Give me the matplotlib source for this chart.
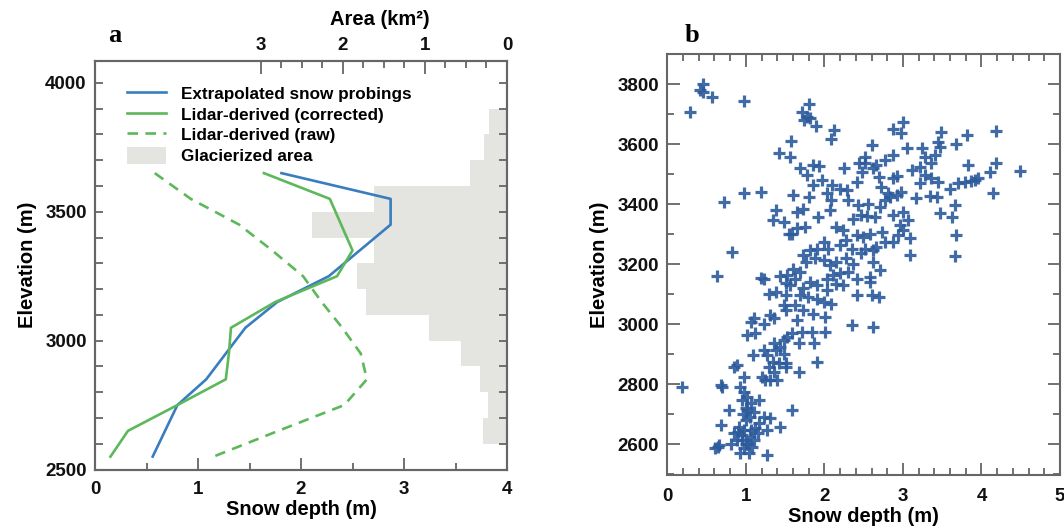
import matplotlib
matplotlib.use('Agg')
import matplotlib.pyplot as plt
from matplotlib.patches import Patch
from matplotlib.lines import Line2D
from matplotlib.ticker import MultipleLocator, FixedLocator

plt.rcParams['font.family'] = ['Liberation Sans', 'DejaVu Sans']
plt.rcParams['font.weight'] = 'bold'
plt.rcParams['axes.labelweight'] = 'bold'

# ---------------- Panel a data ----------------
elev_profile = [3650, 3550, 3450, 3350, 3250, 3150, 3050, 2950, 2850, 2750, 2650, 2550]
depth_probing = [1.81, 2.87, 2.87, 2.57, 2.27, 1.77, 1.46, 1.27, 1.08, 0.80, 0.68, 0.56]
depth_lidar_corr = [1.64, 2.28, 2.39, 2.50, 2.35, 1.75, 1.32, 1.30, 1.27, 0.80, 0.32, 0.15]
depth_lidar_raw = [0.58, 0.93, 1.40, 1.72, 2.02, 2.20, 2.40, 2.58, 2.64, 2.42, 1.78, 1.15]

area_bin_bottom = [2600, 2700, 2800, 2900, 3000, 3100, 3200, 3300, 3400, 3500, 3600, 3700, 3800]
area_km2 = [0.29, 0.23, 0.33, 0.56, 0.95, 1.72, 1.83, 1.62, 2.37, 1.62, 0.45, 0.28, 0.22]

# ---------------- Panel b data ----------------
depth_b = [
    0.45, 0.42, 0.45, 0.57, 0.29, 0.98, 1.80, 1.72, 1.78, 1.74, 1.82, 1.89,
    2.12, 2.08, 1.58, 1.42, 1.56, 1.69, 1.86, 1.93, 1.78, 2.25, 1.97, 1.86,
    2.10, 2.20, 2.29, 2.44, 2.52, 2.48, 2.42, 1.80, 2.03, 0.98, 1.19, 0.72,
    3.00, 2.97, 2.88, 3.49, 3.45, 3.47, 3.81, 3.67, 4.19, 2.60, 3.05, 3.24,
    3.28, 3.41, 3.36, 2.88, 2.77, 2.66, 2.52, 2.62, 3.22, 3.11, 3.28, 3.36,
    3.45, 3.22, 2.88, 2.92, 2.69, 2.72, 3.60, 3.70, 3.79, 3.87, 3.92, 3.96,
    3.83, 4.19, 4.11, 4.49, 4.15, 3.34, 3.43, 3.17, 2.98, 2.92, 2.83, 3.66,
    3.47, 3.62, 3.68, 3.66, 3.09, 3.09, 3.00, 2.88, 3.07, 2.96, 3.00, 2.94,
    2.88, 2.56, 2.71, 2.64, 2.54, 2.47, 2.77, 2.81, 2.58, 2.73, 2.62, 2.66,
    2.52, 2.62, 2.71, 2.58, 2.47, 2.49, 2.77,
    1.60, 1.65, 1.73, 1.92, 2.09, 2.30, 2.07, 2.43, 2.37, 2.41, 2.24, 2.15,
    2.28, 2.35, 2.20, 1.65, 1.75, 1.99, 2.05, 1.90, 1.82, 1.73, 1.77, 1.88,
    1.99, 2.07, 2.15, 2.28, 2.37, 2.30, 2.41, 2.58, 2.20, 2.11, 2.03, 2.15,
    2.24, 2.03, 1.90, 1.82, 1.73, 1.69, 1.79, 1.90, 1.99, 2.09, 2.41, 2.60,
    2.69, 1.62, 1.73, 1.86, 2.01, 1.65, 1.71, 1.84, 2.01, 2.35, 2.62, 1.60,
    1.69, 1.62, 1.56,
    0.83, 0.63, 1.19, 1.23, 1.38, 1.35, 1.48, 1.55, 1.59, 1.44, 1.53, 1.51,
    1.29, 1.38, 1.51, 1.48, 1.51, 1.31, 1.36, 1.10, 1.06, 1.23, 1.02, 1.12,
    0.19, 0.68, 0.70, 0.78, 0.68, 0.64, 0.66, 0.61, 1.27, 0.89, 0.85, 0.98,
    0.93, 0.98, 0.95, 1.02, 1.06, 1.02, 1.10, 1.17, 1.23, 1.31, 1.27, 1.00,
    0.91, 0.85, 0.98, 1.06, 0.89, 0.81, 0.95, 1.02, 1.10, 0.98, 1.04, 0.93,
    1.08, 1.15, 1.17, 1.44, 1.59, 1.09, 1.27, 1.21, 1.25, 1.31, 1.40, 1.36,
    1.42, 1.34, 1.29, 1.51, 1.51, 1.38, 1.44, 1.36, 1.48, 1.53, 1.68, 1.68,
    1.87, 1.91, 1.59, 1.48, 1.23, 0.95, 1.05, 1.00, 0.90, 1.12, 0.97, 1.05,
    1.00,
]
elev_b = [
    3803, 3783, 3776, 3759, 3709, 3746, 3734, 3709, 3692, 3681, 3687, 3661,
    3648, 3617, 3612, 3572, 3557, 3523, 3531, 3528, 3498, 3523, 3481, 3464,
    3464, 3453, 3448, 3537, 3559, 3509, 3476, 3426, 3437, 3437, 3442, 3407,
    3675, 3637, 3650, 3642, 3609, 3592, 3631, 3601, 3645, 3598, 3587, 3587,
    3559, 3564, 3537, 3564, 3548, 3531, 3537, 3520, 3526, 3514, 3498, 3487,
    3476, 3470, 3487, 3494, 3492, 3459, 3453, 3470, 3476, 3479, 3481, 3487,
    3531, 3537, 3509, 3512, 3439, 3428, 3425, 3420, 3442, 3431, 3425, 3397,
    3370, 3359, 3297, 3227, 3231, 3287, 3375, 3364, 3347, 3331, 3314, 3298,
    3276, 3403, 3392, 3359, 3361, 3364, 3414, 3437, 3303, 3309, 3248, 3259,
    3253, 3209, 3181, 3159, 3237, 3292, 3276,
    3431, 3375, 3386, 3358, 3414, 3414, 3381, 3397, 3353, 3297, 3314, 3325,
    3281, 3253, 3264, 3320, 3325, 3275, 3253, 3253, 3247, 3231, 3208, 3220,
    3214, 3197, 3208, 3220, 3203, 3175, 3153, 3142, 3170, 3164, 3153, 3136,
    3131, 3114, 3131, 3142, 3120, 3097, 3092, 3086, 3075, 3069, 3097, 3097,
    3092, 3064, 3047, 3036, 3025, 3014, 2975, 2975, 2975, 2997, 2992, 3186,
    3175, 3153, 3131,
    3242, 3162, 3155, 3153, 3381, 3348, 3342, 3300, 3300, 3162, 3164, 3137,
    3103, 3109, 3098, 3064, 3048, 3031, 3020, 3020, 3009, 3003, 2964, 2970,
    2792, 2798, 2790, 2714, 2664, 2592, 2598, 2587, 2564, 2864, 2859, 2825,
    2792, 2775, 2748, 2759, 2737, 2714, 2709, 2748, 2692, 2687, 2648, 2681,
    2659, 2637, 2648, 2648, 2614, 2603, 2614, 2603, 2614, 2587, 2570, 2570,
    2592, 2637, 2670, 2659, 2714, 2898, 2898, 2825, 2814, 2814, 2814, 2842,
    2870, 2875, 2859, 2870, 2859, 2914, 2925, 2937, 2948, 2959, 2842, 2937,
    2937, 2875, 2970, 2903, 2914, 2630, 2625, 2600, 2640, 2655, 2700, 2690,
    2720,
]

BLUE = '#3a7dbf'
GREEN = '#5cb85a'
GRAY = '#e4e4e1'
SPINE = '#666666'
PTS = '#2c5b9c'
W, H = 1064, 532
TICK_FS = 13.5
LAB_FS = 14.5

fig = plt.figure(figsize=(W / 100, H / 100), dpi=100)

# ---------------- Panel a ----------------
a_left, a_right, a_top, a_bot = 95, 507, 61, 469.5
axa = fig.add_axes([a_left / W, 1 - a_bot / H, (a_right - a_left) / W, (a_bot - a_top) / H])
axa2 = axa.twiny()
axa2.barh(area_bin_bottom, area_km2, height=100, align='edge', color=GRAY, linewidth=0)
axa2.set_xlim(5.02, 0)
axa.set_zorder(axa2.get_zorder() + 1)
axa.patch.set_visible(False)

axa.plot(depth_probing, elev_profile, color=BLUE, lw=1.9)
axa.plot(depth_lidar_corr, elev_profile, color=GREEN, lw=1.9)
axa.plot(depth_lidar_raw, elev_profile, color=GREEN, lw=1.9, ls=(0, (4, 2.8)))

axa.set_xlim(0, 4)
axa.set_ylim(2500, 4085)
axa.xaxis.set_major_locator(MultipleLocator(1))
axa.xaxis.set_minor_locator(MultipleLocator(0.5))
axa.yaxis.set_major_locator(MultipleLocator(500))
axa.yaxis.set_minor_locator(MultipleLocator(100))
axa.tick_params(axis='both', which='both', direction='in', colors=SPINE,
                labelcolor='#111111', labelsize=TICK_FS, top=False, right=True, pad=6)
axa.tick_params(axis='x', which='both', pad=8)
axa.tick_params(axis='x', which='major', length=9, width=1.3)
axa.tick_params(axis='x', which='minor', length=5, width=1.3)
axa.tick_params(axis='y', which='both', length=6, width=1.3)
axa.set_xlabel('Snow depth (m)', fontsize=LAB_FS, labelpad=2)
axa.set_ylabel('Elevation (m)', fontsize=LAB_FS, labelpad=6)

axa2.xaxis.set_major_locator(FixedLocator([0, 1, 2, 3]))
axa2.xaxis.set_minor_locator(FixedLocator([i * 0.25 for i in range(13)]))
axa2.tick_params(axis='x', which='both', direction='in', colors=SPINE,
                 labelcolor='#111111', labelsize=TICK_FS, pad=5)
axa2.tick_params(axis='x', which='major', length=9, width=1.3)
axa2.tick_params(axis='x', which='minor', length=5, width=1.3)
axa2.set_xlabel('Area (km²)', fontsize=LAB_FS)
axa2.xaxis.set_label_coords((380 - a_left) / (a_right - a_left), (a_bot - 25) / (a_bot - a_top))

for axx in (axa, axa2):
    for s in axx.spines.values():
        s.set_color(SPINE)
        s.set_linewidth(1.5)

handles = [
    Line2D([], [], color=BLUE, lw=1.9),
    Line2D([], [], color=GREEN, lw=1.9),
    Line2D([], [], color=GREEN, lw=1.9, ls=(0, (4, 2.8))),
    Patch(facecolor=GRAY, edgecolor='none'),
]
labels = ['Extrapolated snow probings', 'Lidar-derived (corrected)',
          'Lidar-derived (raw)', 'Glacierized area']
axa.legend(handles, labels, loc='upper left', frameon=False, fontsize=12.3,
           bbox_to_anchor=(0.078, 0.942), handlelength=2.3, handleheight=1.15,
           handletextpad=0.85, labelspacing=0.2, borderaxespad=0.0,
           borderpad=0.0)

# ---------------- Panel b ----------------
b_left, b_right, b_top, b_bot = 667.3, 1060, 54.5, 474.5
axb = fig.add_axes([b_left / W, 1 - b_bot / H, (b_right - b_left) / W, (b_bot - b_top) / H])
axb.plot(depth_b, elev_b, ls='none', marker='+', ms=8.5, mew=2.3, color=PTS, alpha=0.9)
axb.set_xlim(0, 5)
axb.set_ylim(2500, 3900)
axb.xaxis.set_major_locator(MultipleLocator(1))
axb.xaxis.set_minor_locator(MultipleLocator(0.2))
axb.yaxis.set_major_locator(MultipleLocator(200))
axb.yaxis.set_minor_locator(MultipleLocator(100))
axb.tick_params(axis='both', which='both', direction='in', colors=SPINE,
                labelcolor='#111111', labelsize=TICK_FS, top=True, right=True, pad=6)
axb.tick_params(axis='x', which='both', pad=10)
axb.tick_params(axis='both', which='major', length=9, width=1.3)
axb.tick_params(axis='both', which='minor', length=5, width=1.3)
axb.set_xlabel('Snow depth (m)', fontsize=LAB_FS, labelpad=1)
axb.set_ylabel('Elevation (m)', fontsize=LAB_FS, labelpad=6)
for s in axb.spines.values():
    s.set_color(SPINE)
    s.set_linewidth(1.5)

# Panel letters
fig.text(115 / W, 1 - 35 / H, 'a', fontsize=19, fontweight='bold',
         family=['Liberation Serif', 'DejaVu Serif'], ha='center', va='center')
fig.text(692 / W, 1 - 35 / H, 'b', fontsize=19, fontweight='bold',
         family=['Liberation Serif', 'DejaVu Serif'], ha='center', va='center')

fig.savefig('out.png', dpi=100)
